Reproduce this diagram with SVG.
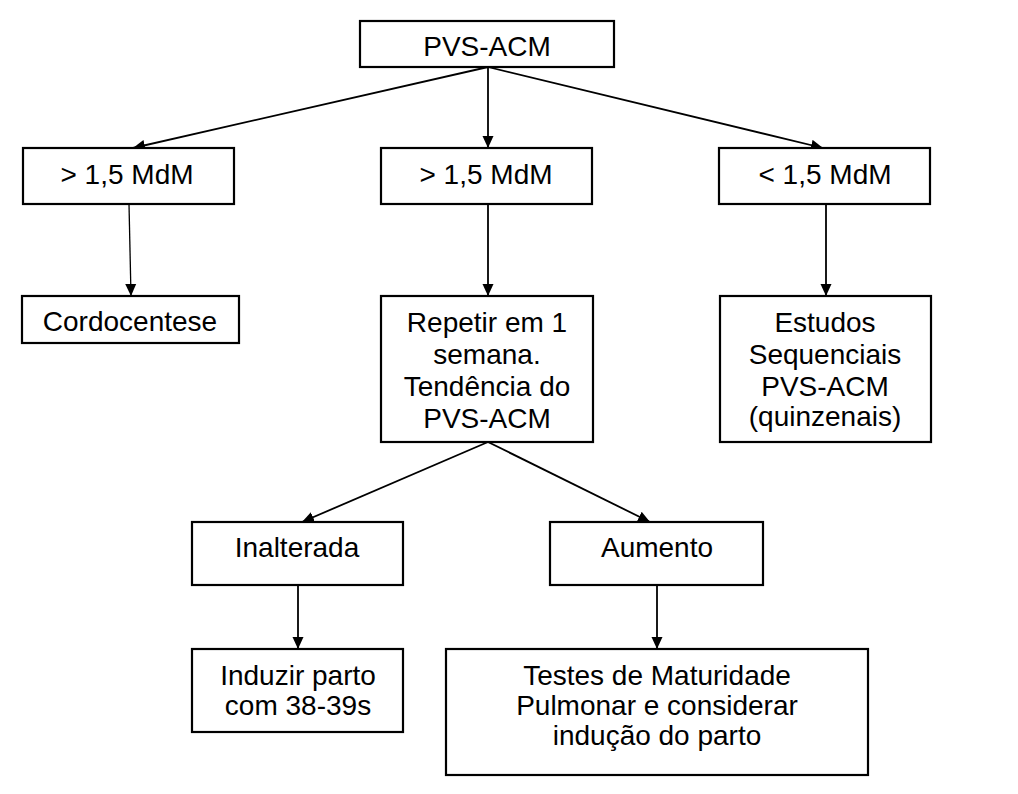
<svg xmlns="http://www.w3.org/2000/svg" width="1018" height="794" viewBox="0 0 1018 794">
<defs>
<marker id="ah" markerUnits="userSpaceOnUse" markerWidth="13" markerHeight="12" refX="12" refY="6" orient="auto">
<path d="M0,0.5 L12,6 L0,11.5 z" fill="#000"/>
</marker>
<style>
.box{fill:#fff;stroke:#000;stroke-width:2.2}
.t{font-family:"Liberation Sans",Arial,sans-serif;font-size:28px;fill:#000;text-anchor:middle}
.c{fill:none;stroke:#000;stroke-width:1.8;marker-end:url(#ah)}
</style>
</defs>
<rect width="1018" height="794" fill="#fff"/>
<g id="connectors">
<line class="c" x1="488" y1="67" x2="133" y2="148"/>
<line class="c" x1="488" y1="67" x2="488" y2="148"/>
<line class="c" x1="488" y1="67" x2="823" y2="148"/>
<line class="c" x1="129" y1="204" x2="131" y2="296" style="stroke-width:1.3"/>
<line class="c" x1="488" y1="204" x2="488" y2="296"/>
<line class="c" x1="826" y1="204" x2="826" y2="296"/>
<line class="c" x1="488" y1="442" x2="302" y2="522"/>
<line class="c" x1="488" y1="442" x2="650" y2="522"/>
<line class="c" x1="298" y1="585" x2="298" y2="649"/>
<line class="c" x1="657" y1="585" x2="657" y2="649"/>
</g>
<g id="n-pvs">
<rect class="box" x="360" y="21" width="254" height="46"/>
<text class="t" x="487" y="56">PVS-ACM</text>
</g>
<g id="n-left">
<rect class="box" x="23" y="148" width="211" height="56"/>
<text class="t" x="127" y="184">&gt; 1,5 MdM</text>
</g>
<g id="n-mid">
<rect class="box" x="381" y="148" width="211" height="56"/>
<text class="t" x="486" y="184">&gt; 1,5 MdM</text>
</g>
<g id="n-right">
<rect class="box" x="719" y="148" width="211" height="56"/>
<text class="t" x="825" y="184">&lt; 1,5 MdM</text>
</g>
<g id="n-cordo">
<rect class="box" x="22" y="296" width="217" height="47"/>
<text class="t" x="130" y="331">Cordocentese</text>
</g>
<g id="n-repetir">
<rect class="box" x="381" y="296" width="212" height="146"/>
<text class="t" x="487" y="332">Repetir em 1</text>
<text class="t" x="487" y="364">semana.</text>
<text class="t" x="487" y="396">Tendência do</text>
<text class="t" x="487" y="428">PVS-ACM</text>
</g>
<g id="n-estudos">
<rect class="box" x="720" y="296" width="211" height="146"/>
<text class="t" x="825" y="332">Estudos</text>
<text class="t" x="825" y="364">Sequenciais</text>
<text class="t" x="825" y="396">PVS-ACM</text>
<text class="t" x="825" y="426">(quinzenais)</text>
</g>
<g id="n-inalterada">
<rect class="box" x="192" y="522" width="211" height="63"/>
<text class="t" x="297" y="557">Inalterada</text>
</g>
<g id="n-aumento">
<rect class="box" x="550" y="522" width="213" height="63"/>
<text class="t" x="657" y="557">Aumento</text>
</g>
<g id="n-induzir">
<rect class="box" x="192" y="649" width="211" height="83"/>
<text class="t" x="298" y="685">Induzir parto</text>
<text class="t" x="298" y="715">com 38-39s</text>
</g>
<g id="n-testes">
<rect class="box" x="446" y="649" width="422" height="126"/>
<text class="t" x="657" y="685">Testes de Maturidade</text>
<text class="t" x="657" y="715">Pulmonar e considerar</text>
<text class="t" x="657" y="745">indução do parto</text>
</g>
</svg>
